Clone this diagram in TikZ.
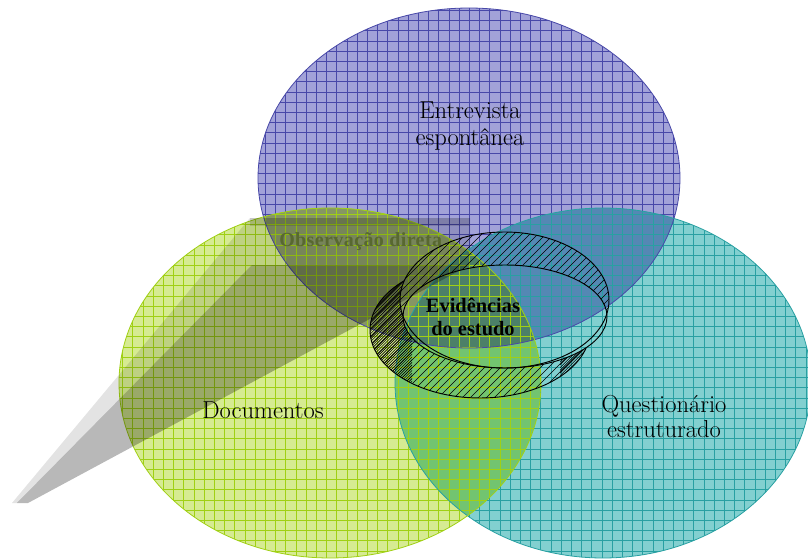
\documentclass[tikz,border=0pt]{standalone}
\usepackage{fontspec}
\newfontfamily\tnrb{Liberation Serif}[BoldFont={Liberation Serif Bold}]
\newfontfamily\tnrsp{Liberation Serif}[BoldFont={Liberation Serif Bold},LetterSpace=2]
\definecolor{bfill}{RGB}{162,162,216}
\definecolor{bgrid}{RGB}{72,72,168}
\definecolor{tfill}{RGB}{130,208,208}
\definecolor{tgrid}{RGB}{40,160,162}
\definecolor{gfill}{RGB}{214,235,146}
\definecolor{ggrid}{RGB}{160,208,20}
\definecolor{bgcol}{RGB}{134,150,100}
\definecolor{btcol}{RGB}{84,136,180}
\definecolor{tgcol}{RGB}{114,196,112}
\definecolor{btgcol}{RGB}{76,128,104}
\definecolor{obscol}{RGB}{88,104,48}
\newcommand\ellB{(469,178) ellipse [x radius=211, y radius=170]}
\newcommand\ellT{(603,383) ellipse [x radius=208, y radius=175]}
\newcommand\ellG{(330,383) ellipse [x radius=211, y radius=175]}
\newcommand\gridlines[1]{%
  \foreach \i in {0,...,80} {\draw[#1, line width=0.35pt] (\i*10.2,0) -- (\i*10.2,560);}
  \foreach \i in {0,...,55} {\draw[#1, line width=0.35pt] (0,\i*10.2) -- (808,\i*10.2);}
}
\tikzset{
  lab/.style={inner sep=0pt, font=\fontsize{18.4}{22}\selectfont, text=black},
  evid/.style={inner sep=0pt, font=\tnrb\bfseries\fontsize{15.3}{18}\selectfont, text=black},
  obs/.style={inner sep=0pt, font=\tnrsp\bfseries\fontsize{15}{18}\selectfont, text=obscol},
  hatch/.style={black, line width=0.45pt},
  ringline/.style={black, line width=0.7pt}
}
\begin{document}
\begin{tikzpicture}[x=0.75pt, y=-0.75pt]
\useasboundingbox (0,0) rectangle (808,560);
\fill[white] (0,0) rectangle (808,560);
% base fills
\fill[bfill] \ellB;
\fill[tfill] \ellT;
\fill[gfill] \ellG;
% overlaps
\begin{scope}
  \clip \ellB;
  \fill[btcol] \ellT;
  \fill[bgcol] \ellG;
\end{scope}
\begin{scope}
  \clip \ellT;
  \fill[tgcol] \ellG;
\end{scope}
\begin{scope}
  \clip \ellB;
  \clip \ellT;
  \fill[btgcol] \ellG;
\end{scope}
% grids
\begin{scope}
  \clip \ellB;
  \gridlines{bgrid}
\end{scope}
\begin{scope}
  \clip \ellT;
  \gridlines{tgrid}
\end{scope}
\begin{scope}
  \clip \ellG;
  \gridlines{ggrid}
\end{scope}
\draw[bgrid, line width=0.6pt] \ellB;
\draw[tgrid, line width=0.6pt] \ellT;
\draw[ggrid, line width=0.6pt] \ellG;
% grey 3D wedge
\fill[black, fill opacity=0.11] (250,218) -- (470,218) -- (470,265) -- (252,265) -- (17,503) -- (12,503) -- cycle;
\fill[black, fill opacity=0.12] (250,218) -- (470,218) -- (470,226) -- (250,226) -- cycle;
\fill[black, fill opacity=0.28] (252,265) -- (470,265) -- (28,503) -- (17,503) -- cycle;
\node[obs, anchor=base west] (obs) at (279,247) {Observação direta};
% ring
\begin{scope}
  \clip (0,0) -- (808,0) -- (808,560) -- (0,560) -- cycle
        (607,316.5) arc [start angle=0, end angle=-360, x radius=102, y radius=51.5];
  \begin{scope}
    \clip (504.5,300) ellipse [x radius=104.5, y radius=68]
          (480,330) ellipse [x radius=110, y radius=68];
    \foreach \c in {170,178,...,630} {\draw[hatch] (\c,410) -- ++(190,-190);}
  \end{scope}
  \begin{scope}
    \clip (0,0) -- (808,0) -- (808,560) -- (0,560) -- cycle
          (609,300) arc [start angle=0, end angle=-360, x radius=104.5, y radius=68];
    \begin{scope}
      \clip (480,330) ellipse [x radius=110, y radius=68];
      \begin{scope}
        \clip (300,200) rectangle (412,420);
        \foreach \c in {170,172.7,...,440} {\draw[hatch] (\c,410) -- ++(190,-190);}
      \end{scope}
      \begin{scope}
        \clip (560,200) rectangle (640,420);
        \foreach \c in {380,382.7,...,640} {\draw[hatch] (\c,410) -- ++(190,-190);}
      \end{scope}
    \end{scope}
    \draw[ringline] (480,330) ellipse [x radius=110, y radius=68];
  \end{scope}
\end{scope}
\draw[ringline] (504.5,300) ellipse [x radius=104.5, y radius=68];
\draw[ringline] (505,316.5) ellipse [x radius=102, y radius=51.5];
\node[evid, anchor=base] (evid1) at (473,312) {Evidências};
\node[evid, anchor=base] (evid2) at (473,335) {do estudo};
\node[lab, anchor=base] (entre1) at (470,119) {Entrevista};
\node[lab, anchor=base] (entre2) at (470,146) {espontânea};
\node[lab, anchor=base] (doc) at (263,418) {Documentos};
\node[lab, anchor=base] (quest1) at (664,412) {Questionário};
\node[lab, anchor=base] (quest2) at (664,437) {estruturado};
\end{tikzpicture}
\end{document}
